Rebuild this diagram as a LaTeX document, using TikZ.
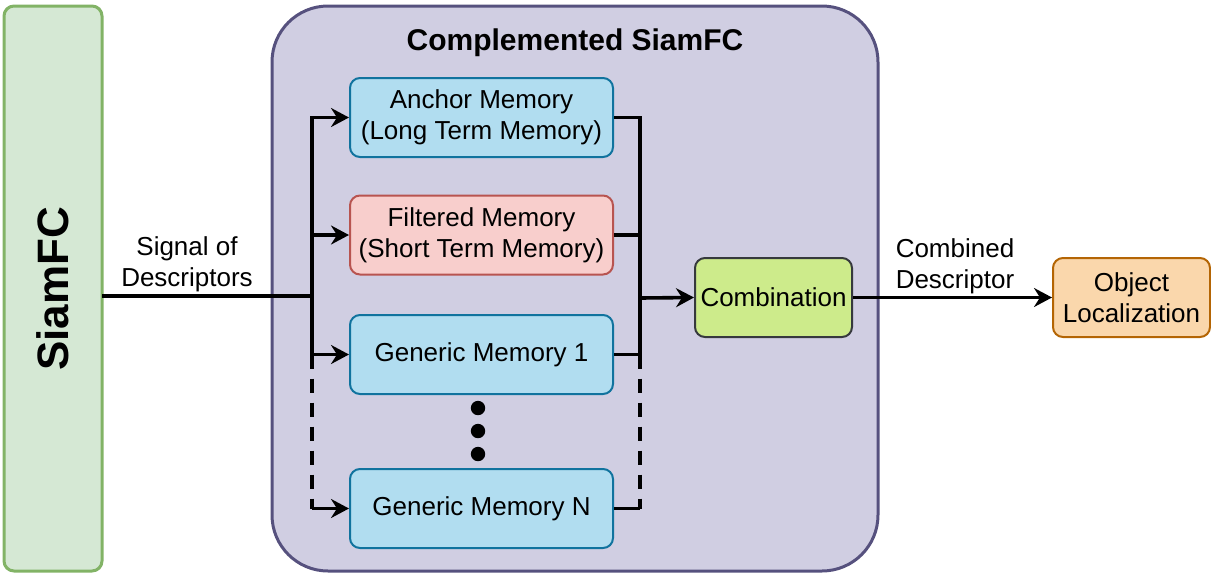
\documentclass[tikz,border=0pt]{standalone}
\usepackage{fontspec}
\setmainfont{Liberation Sans}
\usepackage{xcolor}
\usepackage{tikz}
\usetikzlibrary{arrows.meta}

\definecolor{siamfill}{HTML}{D5E8D4}
\definecolor{siamline}{HTML}{82B366}
\definecolor{compfill}{HTML}{D0CEE2}
\definecolor{compline}{HTML}{56517E}
\definecolor{bluefill}{HTML}{B1DDF0}
\definecolor{blueline}{HTML}{10739E}
\definecolor{redfill}{HTML}{F8CECC}
\definecolor{redline}{HTML}{B85450}
\definecolor{greenfill}{HTML}{CDEB8B}
\definecolor{greenline}{HTML}{36393D}
\definecolor{orangefill}{HTML}{FAD7AC}
\definecolor{orangeline}{HTML}{B46504}

\tikzset{
	memorybox/.style={draw, line width=1pt, rounded corners=5pt, align=center,
		minimum width=131.5pt, minimum height=39.5pt, inner sep=0pt,
		font=\fontsize{13}{15.6}\selectfont},
	wire/.style={line width=1.8pt},
	arrowwire/.style={wire, -{Stealth[length=9pt,width=9.5pt,inset=3pt]}},
	label/.style={align=center, font=\fontsize{13}{15.6}\selectfont}
}

\begin{document}
\begin{tikzpicture}[x=0.5pt,y=-0.5pt]
	\useasboundingbox (0,0) rectangle (1211,574);

	% left block and container
	\draw[siamline,fill=siamfill,line width=1.5pt,rounded corners=5pt] (4,6) rectangle (102,571);
	\node[rotate=90,font=\fontsize{22}{26}\selectfont\bfseries] (siam) at (53,289) {SiamFC};
	\coordinate (siamE) at (102,296);
	\draw[compline,fill=compfill,line width=1.5pt,rounded corners=28pt] (272,6) rectangle (878,571);
	\node[font=\fontsize{15}{18}\selectfont\bfseries] (title) at (575,43) {Complemented SiamFC};

	% memories
	\node[memorybox,draw=blueline,fill=bluefill] (anchor) at (481.5,117.5) {Anchor Memory\\(Long Term Memory)};
	\node[memorybox,draw=redline,fill=redfill] (filtered) at (481.5,235) {Filtered Memory\\(Short Term Memory)};
	\node[memorybox,draw=blueline,fill=bluefill] (generic1) at (481.5,354.5) {Generic Memory 1};
	\node[memorybox,draw=blueline,fill=bluefill] (genericN) at (481.5,508.5) {Generic Memory N};
	\foreach \y in {408,431,454}
		\fill (478,\y) circle (3.6pt);

	\node[memorybox,draw=greenline,fill=greenfill,minimum width=78.5pt] (combination) at (773.5,297.5) {Combination};
	\node[memorybox,draw=orangeline,fill=orangefill,minimum width=78.5pt] (object) at (1131.5,297.5) {Object\\Localization};

	% connectors
	\coordinate (split) at (312,296);
	\coordinate (join) at (640,298);
	\draw[wire] (siamE) -- (split);
	\draw[arrowwire] (split) |- (anchor.west);
	\draw[arrowwire] (split) |- (filtered.west);
	\draw[arrowwire] (split) |- (generic1.west);
	\draw[wire,dashed,dash pattern=on 7pt off 5pt] (generic1.west -| split) -- (genericN.west -| split);
	\draw[arrowwire] (genericN.west -| split) -- (genericN.west);

	\draw[wire] (anchor.east) -| (join);
	\draw[wire] (filtered.east) -| (join);
	\draw[wire] (generic1.east) -| (join);
	\draw[wire,dashed,dash pattern=on 7pt off 5pt] (generic1.east -| join) -- (genericN.east -| join);
	\draw[wire] (genericN.east) -- (genericN.east -| join);
	\draw[arrowwire] (join) -- (combination.west);
	\draw[arrowwire] (combination.east) -- (object.west);

	\node[label] (signal) at (187,264) {Signal of\\Descriptors};
	\node[label] (combined) at (955,266) {Combined\\Descriptor};
\end{tikzpicture}
\end{document}
